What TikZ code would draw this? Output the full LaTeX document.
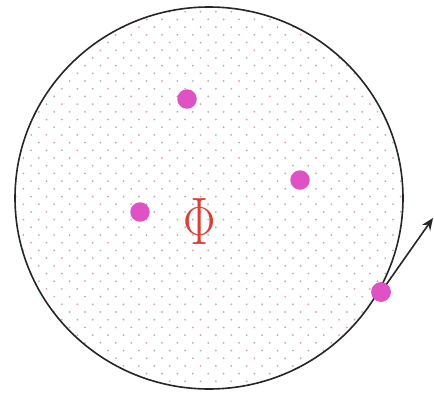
\documentclass[tikz,border=0pt]{standalone}
\usetikzlibrary{arrows.meta,shapes.geometric}
\definecolor{dotmag}{RGB}{222,82,196}
\definecolor{phired}{RGB}{218,64,52}
\definecolor{speckgrey}{RGB}{188,170,176}
\definecolor{speckpink}{RGB}{236,160,184}
\tikzset{
  particle/.style={circle,fill=dotmag,inner sep=0pt,minimum size=19.5pt},
  boundary/.style={draw=black!85,line width=1.6pt},
  vec/.style={draw=black!85,line width=1.6pt,-{Stealth[length=12pt,width=10pt]}}
}
\begin{document}
\begin{tikzpicture}[x=1pt,y=-1pt]
\useasboundingbox[fill=white] (0,0) rectangle (434,394);
\begin{scope}
\clip (209,198) ellipse [x radius=194, y radius=191];
\foreach \r in {0,...,51}{
  \pgfmathsetmacro{\yy}{4+\r*7.7}
  \pgfmathsetmacro{\off}{mod(\r,2)*7.7}
  \foreach \c in {0,...,28}{
    \pgfmathsetmacro{\xx}{8+\off+\c*15.4}
    \pgfmathtruncatemacro{\sel}{mod(\r*7+\c*3,5)}
    \ifnum\sel=0
      \fill[speckpink] (\xx,\yy) circle (1.05pt);
    \else
      \fill[speckgrey] (\xx,\yy) circle (1pt);
    \fi
  }
}
\end{scope}
\node[boundary,ellipse,minimum width=388pt,minimum height=382pt,inner sep=0pt] (domain) at (209,198) {};
\node[text=phired,font=\Huge,xscale=1.95,yscale=2.7,inner sep=0pt] (phi) at (200,222) {$\Phi$};
\node[particle] (p1) at (187,99) {};
\node[particle] (p2) at (300,180) {};
\node[particle] (p3) at (140,212) {};
\node[particle] (p4) at (381,292) {};
\coordinate (tip) at (433,218);
\draw[vec] (p4.center) -- (tip);
\node[particle] at (p4) {};
\end{tikzpicture}
\end{document}
